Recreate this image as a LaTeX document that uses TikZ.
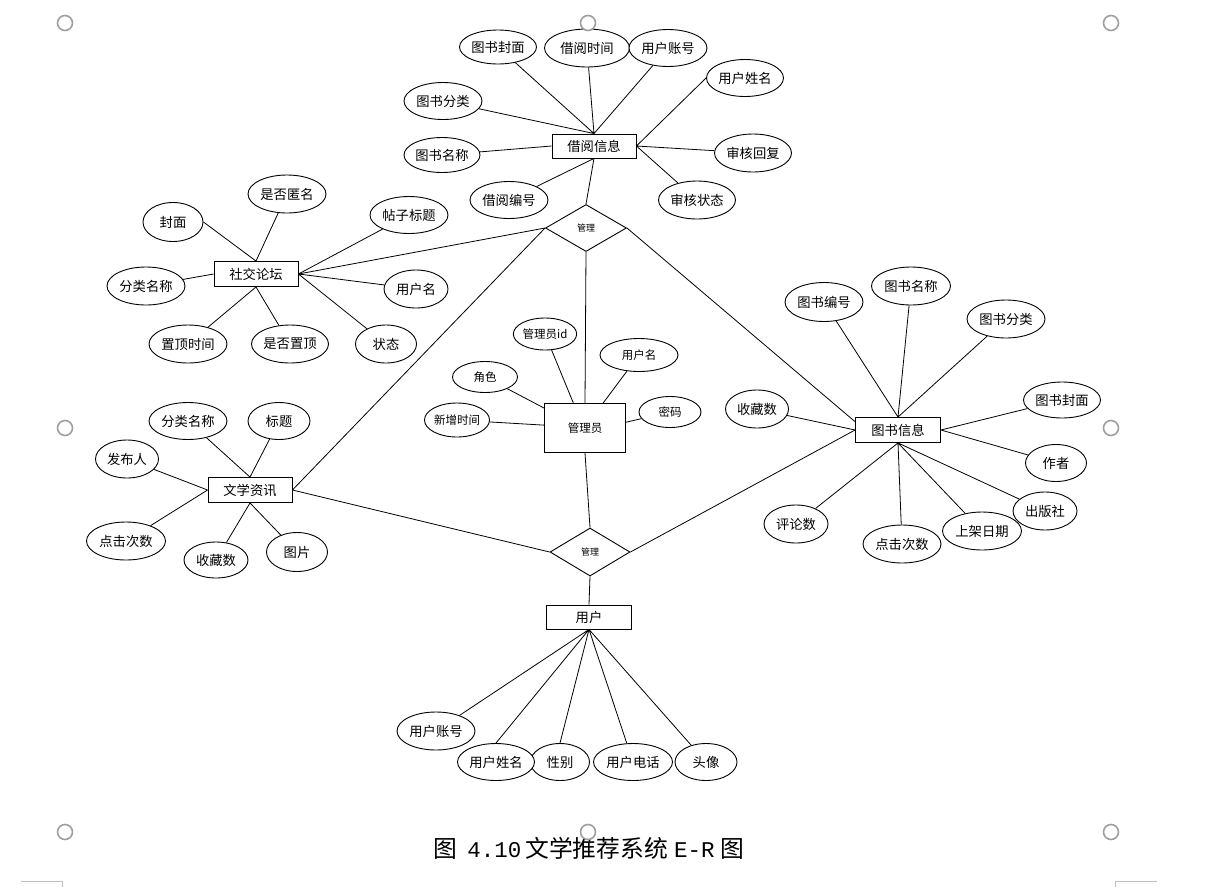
\documentclass[tikz,border=0pt]{standalone}
\usepackage{fontspec}
\newfontfamily\cjk{Noto Sans CJK SC}
\newfontfamily\capmono{Liberation Mono}
\usetikzlibrary{shapes.geometric}

\begin{document}
\begin{tikzpicture}[x=1pt,y=-1pt,
  ent/.style={draw,rectangle,fill=white,line width=0.9pt,inner sep=0pt,font=\cjk\fontsize{13.3}{15}\selectfont},
  attr/.style={draw,ellipse,fill=white,line width=0.9pt,inner sep=0pt,font=\cjk\fontsize{13.3}{15}\selectfont},
  admfont/.style={font=\cjk\fontsize{11.5}{13}\selectfont},
  rel/.style={draw,diamond,fill=white,line width=0.9pt,inner sep=0pt,font=\cjk\fontsize{9}{10}\selectfont},
  sz/.style 2 args={minimum width=#1pt,minimum height=#2pt},
  link/.style={line width=0.8pt},
  handle/.style={draw=gray!75,line width=1.6pt,fill=white}]
\useasboundingbox (0,0) rectangle (1219,887);

% entities and relations
\node[ent,sz={84}{24}] (jyxx) at (594,146) {借阅信息};
\node[ent,sz={84}{25}] (shejiao) at (256,274) {社交论坛};
\node[ent,sz={84}{25}] (wenxue) at (250,490) {文学资讯};
\node[ent,sz={85}{25}] (tushu) at (898,430) {图书信息};
\node[ent,admfont,sz={81}{49}] (glyuan) at (585,428) {管理员};
\node[ent,sz={85}{24}] (yonghu) at (589,617) {用户};
\node[rel,sz={81}{47}] (gl1) at (586,228) {管理};
\node[rel,sz={80}{48}] (gl2) at (590,552) {管理};

% 借阅信息
\node[attr,sz={77}{34}] (jyfm) at (498,47) {图书封面};
\node[attr,sz={85}{38}] (jysj) at (587,48) {借阅时间};
\node[attr,sz={78}{37}] (jyzh) at (668,48) {用户账号};
\node[attr,sz={77}{37}] (jyxm) at (745,78) {用户姓名};
\node[attr,sz={78}{37}] (jyfl) at (443,101) {图书分类};
\node[attr,sz={76}{35}] (jymc) at (442,155) {图书名称};
\node[attr,sz={77}{38}] (jyhf) at (753,153) {审核回复};
\node[attr,sz={78}{37}] (jybh) at (509,200) {借阅编号};
\node[attr,sz={77}{38}] (jyzt) at (697,200) {审核状态};
\draw[link] (jyfm) -- (jyxx.north) (jysj) -- (jyxx.north) (jyzh) -- (jyxx.north)
  (jyfl) -- (jyxx.north) (jymc) -- (jyxx.west) (jybh) -- (jyxx.south)
  (jyxm.west) -- (jyxx.east) (jyhf) -- (jyxx.east) (jyzt) -- (jyxx.east);

% 社交论坛
\node[attr,sz={78}{38}] (sjnm) at (287,194) {是否匿名};
\node[attr,sz={60}{39}] (sjfm) at (173,222) {封面};
\node[attr,sz={78}{37}] (sjbt) at (409,215) {帖子标题};
\node[attr,sz={78}{38}] (sjfl) at (146,286) {分类名称};
\node[attr,sz={64}{38}] (sjyh) at (416,289) {用户名};
\node[attr,sz={78}{38}] (sjsj) at (188,344) {置顶时间};
\node[attr,sz={77}{38}] (sjzd) at (290,344) {是否置顶};
\node[attr,sz={61}{38}] (sjzt) at (386,344) {状态};
\draw[link] (sjnm) -- (shejiao.north) (sjfm.east) -- (shejiao.north) (sjfl) -- (shejiao.west)
  (sjbt) -- (shejiao.east) (sjyh) -- (shejiao.east) (sjzt) -- (shejiao.east)
  (sjsj) -- (shejiao.south) (sjzd) -- (shejiao.south);

% 文学资讯
\node[attr,sz={78}{37}] (wxfl) at (188,421) {分类名称};
\node[attr,sz={62}{37}] (wxbt) at (279,421) {标题};
\node[attr,sz={63}{38}] (wxfb) at (127,459) {发布人};
\node[attr,sz={79}{38}] (wxdj) at (126,541) {点击次数};
\node[attr,sz={64}{36}] (wxsc) at (216,560) {收藏数};
\node[attr,sz={61}{39}] (wxtp) at (297,552) {图片};
\draw[link] (wxfl) -- (wenxue.north) (wxbt) -- (wenxue.north) (wxfb) -- (wenxue.west)
  (wxdj) -- (wenxue.west) (wxsc) -- (wenxue.south) (wxtp) -- (wenxue.south);

% 管理员
\node[attr,admfont,sz={62}{32}] (glid) at (545,334) {管理员id};
\node[attr,admfont,sz={78}{33}] (glyhm) at (639,355) {用户名};
\node[attr,admfont,sz={65}{31}] (gljs) at (485,377) {角色};
\node[attr,admfont,sz={65}{34}] (glxz) at (457,420) {新增时间};
\node[attr,admfont,sz={62}{31}] (glmm) at (670,412) {密码};
\draw[link] (glid) -- (glyuan.115) (glyhm) -- (glyuan.54) (gljs) -- (glyuan.154)
  (glxz) -- (glyuan.176) (glmm) -- (glyuan.8);

% 图书信息
\node[attr,sz={78}{39}] (tsbh) at (824,302) {图书编号};
\node[attr,sz={79}{38}] (tsmc) at (911,286) {图书名称};
\node[attr,sz={78}{38}] (tsfl) at (1006,319) {图书分类};
\node[attr,sz={63}{38}] (tssc) at (757,409) {收藏数};
\node[attr,sz={77}{36}] (tsfm) at (1062,400) {图书封面};
\node[attr,sz={61}{37}] (tszz) at (1056,463) {作者};
\node[attr,sz={79}{38}] (tsrq) at (982,531) {上架日期};
\node[attr,sz={64}{38}] (tscb) at (1045,511) {出版社};
\node[attr,sz={78}{38}] (tsdj) at (902,544) {点击次数};
\node[attr,sz={64}{38}] (tspl) at (796,524) {评论数};
\draw[link] (tsbh) -- (tushu.north) (tsmc) -- (tushu.north) (tsfl) -- (tushu.north)
  (tssc) -- (tushu.west) (tsfm) -- (tushu.east) (tszz) -- (tushu.east)
  (tscb) -- (tushu.south) (tsrq) -- (tushu.south) (tsdj) -- (tushu.south) (tspl) -- (tushu.south);

% 用户
\node[attr,sz={78}{38}] (yhzh) at (436,731) {用户账号};
\node[attr,sz={59}{37}] (yhxb) at (560,762) {性别};
\node[attr,sz={77}{37}] (yhxm) at (496,762) {用户姓名};
\node[attr,sz={79}{37}] (yhdh) at (633,762) {用户电话};
\node[attr,sz={62}{37}] (yhtx) at (706,762) {头像};
\draw[link] (yhzh) -- (yonghu.south) (yhxm.north) -- (yonghu.south) (yhxb.north) -- (yonghu.south)
  (yhdh) -- (yonghu.south) (yhtx) -- (yonghu.south);

% relationships
\draw[link] (gl1.north) -- (jyxx.south) (gl1.west) -- (shejiao.east) (gl1.west) -- (wenxue.east)
  (gl1.east) -- (tushu.169) (gl1.south) -- (glyuan.north) (glyuan.south) -- (gl2.north)
  (gl2.west) -- (wenxue.east) (gl2.east) -- (tushu.west) (gl2.south) -- (yonghu.north);

\node (caption) at (589,848) {\cjk\fontsize{23.8}{26}\selectfont 图\hspace{10pt}{\capmono\fontsize{22.5}{24}\selectfont 4.10}\hspace{4pt}文学推荐系统\hspace{6pt}{\capmono\fontsize{22.5}{24}\selectfont E-R}\hspace{6pt}图};

% selection handles and page corners
\draw[handle] (65,23) circle[radius=7.5pt] (588,23) circle[radius=7.5pt] (1111,23) circle[radius=7.5pt]
  (65,428) circle[radius=7.5pt] (1111,428) circle[radius=7.5pt]
  (65,832) circle[radius=7.5pt] (588,832) circle[radius=7.5pt] (1111,832) circle[radius=7.5pt];
\draw[gray!50,line width=1pt] (21,881) -- (62,881) -- (62,887) (1157,881) -- (1115,881) -- (1115,887);
\end{tikzpicture}
\end{document}
